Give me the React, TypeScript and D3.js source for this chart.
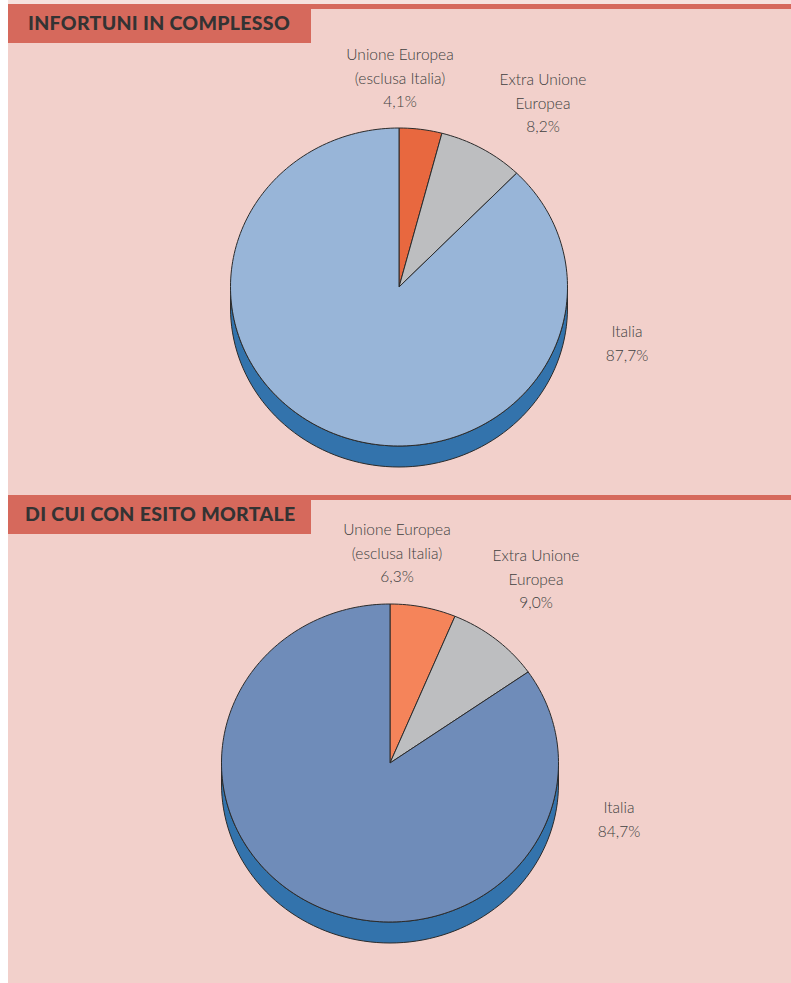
import React from "react";
import * as d3 from "d3";

const categories = ["Unione Europea (esclusa Italia)", "Extra Unione Europea", "Italia"];
const totalValues = [4.1, 8.2, 87.7];
const fatalValues = [6.3, 9.0, 84.7];
const totalLabels = [["Unione Europea", "(esclusa Italia)", "4,1%"], ["Extra Unione", "Europea", "8,2%"], ["Italia", "87,7%"]];
const fatalLabels = [["Unione Europea", "(esclusa Italia)", "6,3%"], ["Extra Unione", "Europea", "9,0%"], ["Italia", "84,7%"]];
const titles = ["INFORTUNI IN COMPLESSO", "DI CUI CON ESITO MORTALE"];

const W = 791;
const H = 983;

type PieCfg = {
  values: number[];
  labels: string[][];
  cx: number;
  cy: number;
  topColors: string[];
  sideColors: string[];
  labelPos: [number, number][];
};

const RX = 168.5;
const RY = 159;
const DEPTH = 21;

function pt(cx: number, cy: number, a: number, dy = 0): [number, number] {
  return [cx + RX * Math.sin(a), cy - RY * Math.cos(a) + dy];
}

function Pie3D({ cfg }: { cfg: PieCfg }) {
  const pie = d3.pie<number>().sort(null).value((d) => d).startAngle(0).endAngle(2 * Math.PI);
  const arcs = pie(cfg.values);
  const { cx, cy } = cfg;
  const line = d3.line();

  const sides: React.ReactNode[] = [];
  const tops: React.ReactNode[] = [];
  arcs.forEach((a, i) => {
    const s = Math.max(a.startAngle, Math.PI / 2);
    const e = Math.min(a.endAngle, (3 * Math.PI) / 2);
    if (e > s) {
      const n = 80;
      const topPts = d3.range(n + 1).map((k) => pt(cx, cy, s + ((e - s) * k) / n));
      const botPts = d3.range(n + 1).map((k) => pt(cx, cy, e - ((e - s) * k) / n, DEPTH));
      sides.push(
        <path key={"s" + i} d={line([...topPts, ...botPts])! + "Z"} fill={cfg.sideColors[i]} stroke="#2b2b2b" strokeWidth={1} />
      );
    }
    const n = Math.max(4, Math.ceil(((a.endAngle - a.startAngle) / (2 * Math.PI)) * 240));
    const arcPts = d3.range(n + 1).map((k) => pt(cx, cy, a.startAngle + ((a.endAngle - a.startAngle) * k) / n));
    tops.push(
      <path key={"t" + i} d={line([[cx, cy], ...arcPts])! + "Z"} fill={cfg.topColors[i]} stroke="#2b2b2b" strokeWidth={1} strokeLinejoin="round" />
    );
  });

  return (
    <g>
      {sides}
      {tops}
      {cfg.labels.map((lines, i) => (
        <text key={"l" + i} x={cfg.labelPos[i][0]} y={cfg.labelPos[i][1]} textAnchor="middle" fontFamily="Lato, 'Open Sans', sans-serif" fontWeight={300} fontSize={15.5} fill="#404040">
          {lines.map((t, j) => (
            <tspan key={j} x={cfg.labelPos[i][0]} dy={j === 0 ? 0 : 23.5}>{t}</tspan>
          ))}
        </text>
      ))}
    </g>
  );
}

function Header({ y, title, width, x, fs, ls }: { y: number; title: string; width: number; x: number; fs: number; ls: number }) {
  return (
    <g>
      <rect x={8} y={y} width={W - 8} height={5} fill="#D6695C" />
      <rect x={8} y={y} width={width} height={39} fill="#D6695C" />
      <text x={x} y={y + 25.5} fontFamily="Lato, 'Open Sans', sans-serif" fontWeight={900} fontSize={fs} letterSpacing={ls} fill="#333333">{title}</text>
    </g>
  );
}

export default function App() {
  const cfg1: PieCfg = {
    values: totalValues,
    labels: totalLabels,
    cx: 399,
    cy: 287,
    topColors: ["#E8683F", "#BDBEC0", "#98B5D8"],
    sideColors: ["#B04A2A", "#8E8F91", "#3373AC"],
    labelPos: [[400, 60], [543, 85], [627, 337]],
  };
  const cfg2: PieCfg = {
    values: fatalValues,
    labels: fatalLabels,
    cx: 390,
    cy: 763,
    topColors: ["#F5845A", "#BDBEC0", "#6F8CB9"],
    sideColors: ["#B85A38", "#8E8F91", "#3373AC"],
    labelPos: [[397, 535], [536, 561], [619, 813]],
  };
  return (
    <svg width={W} height={H} style={{ position: "absolute", left: 0, top: 0 }} aria-label={categories.join(", ")}>
      <rect x={0} y={0} width={W} height={H} fill="#ffffff" />
      <rect x={8} y={0} width={W - 8} height={4} fill="#F6E2DE" />
      <rect x={8} y={4} width={W - 8} height={H - 4} fill="#F2D0CB" />
      <Header y={4} title={titles[0]} width={303} x={28} fs={19.5} ls={0.3} />
      <Header y={495} title={titles[1]} width={303} x={25} fs={19.5} ls={0.3} />
      <Pie3D cfg={cfg1} />
      <Pie3D cfg={cfg2} />
    </svg>
  );
}
